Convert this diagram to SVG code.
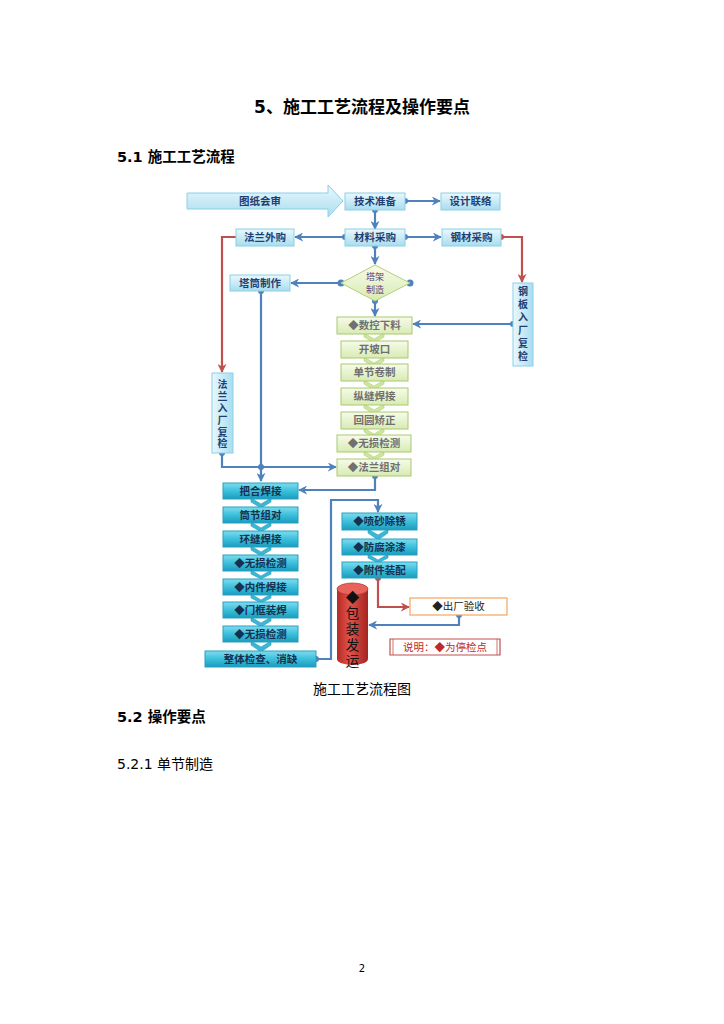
<svg xmlns="http://www.w3.org/2000/svg" width="724" height="1024" viewBox="0 0 724 1024">
<defs>
<linearGradient id="gBlue" x1="0" y1="0" x2="0" y2="1"><stop offset="0" stop-color="#eaf8fd"/><stop offset="1" stop-color="#a8ddf0"/></linearGradient>
<linearGradient id="gBlueH" x1="0" y1="0" x2="1" y2="0"><stop offset="0" stop-color="#eaf8fd"/><stop offset="1" stop-color="#a8ddf0"/></linearGradient>
<linearGradient id="gCyan" x1="0" y1="0" x2="0" y2="1"><stop offset="0" stop-color="#7fdcef"/><stop offset="0.5" stop-color="#3cbfdc"/><stop offset="1" stop-color="#1a9cbc"/></linearGradient>
<linearGradient id="gGreen" x1="0" y1="0" x2="0" y2="1"><stop offset="0" stop-color="#f7fbea"/><stop offset="1" stop-color="#d8ebb3"/></linearGradient>
<linearGradient id="gRed" x1="0" y1="0" x2="1" y2="0"><stop offset="0" stop-color="#b32a24"/><stop offset="0.4" stop-color="#e2524a"/><stop offset="1" stop-color="#a52520"/></linearGradient>
<marker id="ab" viewBox="0 0 10 10" refX="9" refY="5" markerWidth="9" markerHeight="9" markerUnits="userSpaceOnUse" orient="auto"><path d="M0,0 L10,5 L0,10 L3,5 Z" fill="#4f81bd"/></marker>
<marker id="ar" viewBox="0 0 10 10" refX="9" refY="5" markerWidth="9" markerHeight="9" markerUnits="userSpaceOnUse" orient="auto"><path d="M0,0 L10,5 L0,10 L3,5 Z" fill="#c0504d"/></marker>
</defs>
<style>
.h{font-family:"DejaVu Sans","Noto Sans CJK SC",sans-serif;fill:#000}
.b{fill:url(#gBlue);stroke:#8ccfe6;stroke-width:1}
.c{fill:url(#gCyan);stroke:#2a9fbf;stroke-width:1}
.g{fill:url(#gGreen);stroke:#a9c96e;stroke-width:1}
.tb{font-family:"Noto Sans CJK SC",sans-serif;font-size:10.5px;font-weight:bold;fill:#1f3f73;text-anchor:middle}
.tv{font-family:"Noto Sans CJK SC",sans-serif;font-size:10px;font-weight:bold;fill:#1f3f73;text-anchor:middle;writing-mode:vertical-rl;text-orientation:upright}
.tc{font-family:"Noto Sans CJK SC",sans-serif;font-size:10.5px;font-weight:bold;fill:#16304f;text-anchor:middle}
.tg{font-family:"Noto Sans CJK SC",sans-serif;font-size:10.5px;font-weight:bold;fill:#707070;text-anchor:middle}
.lb{fill:none;stroke:#4f81bd;stroke-width:2.2}
.lr{fill:none;stroke:#c0504d;stroke-width:2.2}
.db{fill:#4f81bd}
.dr{fill:#c0504d}
.chg{fill:#cfe59f;stroke:#b3d07a;stroke-width:0.6}
.chc{fill:#3db6d3;stroke:#2a9fbf;stroke-width:0.6}
</style>
<rect width="724" height="1024" fill="#fff"/>
<text class="h" x="362" y="113" font-size="17" font-weight="bold" text-anchor="middle">5、施工工艺流程及操作要点</text>
<text class="h" x="117" y="162" font-size="14.5" font-weight="bold">5.1 施工工艺流程</text>

<g id="connectors">
<line class="lb" x1="405" y1="201" x2="440" y2="201" marker-end="url(#ab)"/><circle class="db" cx="405" cy="201" r="3"/>
<line class="lb" x1="375" y1="210" x2="375" y2="229" marker-end="url(#ab)"/><circle class="db" cx="375" cy="210" r="3"/>
<line class="lb" x1="345" y1="237" x2="295" y2="237" marker-end="url(#ab)"/><circle class="db" cx="345" cy="237" r="3"/>
<line class="lb" x1="405" y1="237" x2="441" y2="237" marker-end="url(#ab)"/><circle class="db" cx="405" cy="237" r="3"/>
<polyline class="lr" points="501,237 522,237 522,282" marker-end="url(#ar)"/><circle class="dr" cx="501" cy="237" r="3"/>
<polyline class="lr" points="236,237 222,237 222,372" marker-end="url(#ar)"/>
<line class="lb" x1="375" y1="246" x2="375" y2="264" marker-end="url(#ab)"/><circle class="db" cx="375" cy="246" r="3"/>
<line class="lb" x1="341" y1="283" x2="291" y2="283" marker-end="url(#ab)"/><circle class="db" cx="341" cy="283" r="3.5"/>
<circle class="db" cx="410" cy="283" r="3.5"/>
<line class="lb" x1="375" y1="301" x2="375" y2="316" marker-end="url(#ab)"/><circle class="db" cx="375" cy="301" r="3"/>
<line class="lb" x1="513" y1="324" x2="413" y2="324" marker-end="url(#ab)"/><circle class="db" cx="513" cy="324" r="3"/>
<line class="lb" x1="261" y1="291" x2="261" y2="481" marker-end="url(#ab)"/><circle class="db" cx="261" cy="291" r="3"/>
<polyline class="lb" points="222,453 222,467 336,467" marker-end="url(#ab)"/><circle class="db" cx="222" cy="453" r="3"/>
<circle class="db" cx="261" cy="467" r="3"/>
<polyline class="lb" points="375,476 375,490 299,490" marker-end="url(#ab)"/><circle class="db" cx="375" cy="476" r="3"/>
<polyline class="lb" points="316,659 331,659 331,500 378,500 378,512" marker-end="url(#ab)"/><circle class="db" cx="316" cy="659" r="3"/>
<polyline class="lr" points="378,578 378,607 409,607" marker-end="url(#ar)"/><circle class="dr" cx="378" cy="578" r="3"/>
<polyline class="lb" points="459,615 459,625 369,625" marker-end="url(#ab)"/><circle class="db" cx="459" cy="615" r="3"/>
</g>

<g id="n-tuzhi"><path d="M187,193 H328 V185 L343,201 L328,217 V209 H187 Z" fill="url(#gBlue)" stroke="#8ccfe6"/><text class="tb" x="260" y="205">图纸会审</text></g>
<g id="n-jishu"><rect class="b" x="345" y="193" width="60" height="17"/><text class="tb" x="375" y="205">技术准备</text></g>
<g id="n-sheji"><rect class="b" x="441" y="193" width="59" height="17"/><text class="tb" x="470.5" y="205">设计联络</text></g>
<g id="n-cailiao"><rect class="b" x="345" y="229" width="60" height="17"/><text class="tb" x="375" y="241">材料采购</text></g>
<g id="n-falanwai"><rect class="b" x="236" y="229" width="58" height="17"/><text class="tb" x="265" y="241">法兰外购</text></g>
<g id="n-gangcai"><rect class="b" x="442" y="229" width="59" height="17"/><text class="tb" x="471.5" y="241">钢材采购</text></g>
<g id="n-gangban"><rect x="513" y="283" width="20" height="83" fill="url(#gBlueH)" stroke="#8ccfe6"/>
<text class="tv" x="523" y="325" letter-spacing="3">钢板入厂复检</text></g>
<g id="n-falanru"><rect x="212" y="373" width="21" height="80" fill="url(#gBlueH)" stroke="#8ccfe6"/>
<text class="tv" x="222.5" y="415" letter-spacing="1.8">法兰入厂复检</text></g>
<g id="n-tajia"><polygon points="375,265 410,283 375,301 341,283" fill="url(#gGreen)" stroke="#b3d07a"/><text class="tb" x="375" style="fill:#5a3a78;font-weight:normal;font-size:9px"><tspan x="375" y="280">塔架</tspan><tspan x="375" y="293">制造</tspan></text></g>
<g id="n-tatong"><rect class="b" x="230" y="275" width="60" height="16"/><text class="tb" x="260" y="287">塔筒制作</text></g>

<g id="green-stack">
<polygon class="chg" points="364,333 374,339 384,333 384,337 374,343 364,337"/>
<polygon class="chg" points="364,357 374,363 384,357 384,361 374,367 364,361"/>
<polygon class="chg" points="364,380 374,386 384,380 384,384 374,390 364,384"/>
<polygon class="chg" points="364,404 374,410 384,404 384,408 374,414 364,408"/>
<polygon class="chg" points="364,428 374,434 384,428 384,432 374,438 364,432"/>
<polygon class="chg" points="364,451 374,457 384,451 384,455 374,461 364,455"/>
</g>
<g id="n-shukong"><rect class="g" x="337" y="317" width="75" height="17"/><text class="tg" x="374.5" y="329">◆数控下料</text></g>
<g id="n-kaipo"><rect class="g" x="341" y="341" width="67" height="17"/><text class="tg" x="374.5" y="353">开坡口</text></g>
<g id="n-danjie"><rect class="g" x="341" y="364" width="67" height="17"/><text class="tg" x="374.5" y="376">单节卷制</text></g>
<g id="n-zongfeng"><rect class="g" x="341" y="388" width="67" height="17"/><text class="tg" x="374.5" y="400">纵缝焊接</text></g>
<g id="n-huiyuan"><rect class="g" x="341" y="412" width="67" height="17"/><text class="tg" x="374.5" y="424">回圆矫正</text></g>
<g id="n-wusun1"><rect class="g" x="337" y="435" width="74" height="17"/><text class="tg" x="374" y="447">◆无损检测</text></g>
<g id="n-falanzu"><rect class="g" x="337" y="459" width="74" height="17"/><text class="tg" x="374" y="471">◆法兰组对</text></g>

<g id="cyan-stack">
<polygon class="chc" points="251,498 261,504 271,498 271,502 261,508 251,502"/>
<polygon class="chc" points="251,522 261,528 271,522 271,526 261,532 251,526"/>
<polygon class="chc" points="251,546 261,552 271,546 271,550 261,556 251,550"/>
<polygon class="chc" points="251,570 261,576 271,570 271,574 261,579 251,574"/>
<polygon class="chc" points="251,594 261,600 271,594 271,598 261,603 251,598"/>
<polygon class="chc" points="251,617 261,623 271,617 271,621 261,627 251,621"/>
<polygon class="chc" points="251,641 261,647 271,641 271,645 261,652 251,645"/>
<polygon class="chc" points="368,529 378,535 388,529 388,533 378,540 368,533"/>
<polygon class="chc" points="368,554 378,560 388,554 388,558 378,563 368,558"/>
</g>
<g id="n-bahe"><rect class="c" x="223" y="483" width="75" height="16"/><text class="tc" x="260.5" y="495">把合焊接</text></g>
<g id="n-tongjie"><rect class="c" x="223" y="507" width="75" height="16"/><text class="tc" x="260.5" y="519">筒节组对</text></g>
<g id="n-huanfeng"><rect class="c" x="223" y="531" width="75" height="16"/><text class="tc" x="260.5" y="543">环缝焊接</text></g>
<g id="n-wusun2"><rect class="c" x="223" y="555" width="75" height="16"/><text class="tc" x="260.5" y="567">◆无损检测</text></g>
<g id="n-neijian"><rect class="c" x="223" y="579" width="75" height="16"/><text class="tc" x="260.5" y="591">◆内件焊接</text></g>
<g id="n-menkuang"><rect class="c" x="223" y="602" width="75" height="16"/><text class="tc" x="260.5" y="614">◆门框装焊</text></g>
<g id="n-wusun3"><rect class="c" x="223" y="626" width="75" height="16"/><text class="tc" x="260.5" y="638">◆无损检测</text></g>
<g id="n-zhengti"><rect class="c" x="205" y="651" width="111" height="16"/><text class="tc" x="260.5" y="663">整体检查、消缺</text></g>
<g id="n-penshan"><rect class="c" x="342" y="513" width="75" height="17"/><text class="tc" x="379.5" y="525">◆喷砂除锈</text></g>
<g id="n-fangfu"><rect class="c" x="342" y="539" width="75" height="16"/><text class="tc" x="379.5" y="551">◆防腐涂漆</text></g>
<g id="n-fujian"><rect class="c" x="342" y="562" width="75" height="16"/><text class="tc" x="379.5" y="574">◆附件装配</text></g>
<g id="n-chuchang"><rect x="410" y="598" width="97" height="17" fill="#fff" stroke="#f4a460" stroke-width="1.2"/><text x="458.5" y="610" font-family="Noto Sans CJK SC,sans-serif" font-size="10.5" fill="#222" text-anchor="middle">◆出厂验收</text></g>
<g id="n-baozhuang"><path d="M337,589 V659 A15.5,6 0 0 0 368,659 V589 Z" fill="url(#gRed)"/><ellipse cx="352.5" cy="589" rx="15.5" ry="6" fill="#e8635b" stroke="#b83a33" stroke-width="0.8"/>
<text x="352.5" y="630" font-family="Noto Sans CJK SC,sans-serif" font-size="13.5" fill="#111" text-anchor="middle" letter-spacing="2.5" style="writing-mode:vertical-rl;text-orientation:upright">◆包装发运</text></g>
<g id="n-shuoming"><path d="M390,639 H500 V655 H390 Z" fill="#fff" stroke="#c0504d" stroke-width="1.2"/><line x1="393" y1="639" x2="393" y2="655" stroke="#c0504d" stroke-width="0.8"/><line x1="497" y1="639" x2="497" y2="655" stroke="#c0504d" stroke-width="0.8"/><text x="445" y="651" font-family="Noto Sans CJK SC,sans-serif" font-size="10.5" fill="#c0282a" text-anchor="middle">说明：◆为停检点</text></g>

<text class="h" x="362" y="694" font-size="14" text-anchor="middle">施工工艺流程图</text>
<text class="h" x="117" y="722" font-size="14.5" font-weight="bold">5.2 操作要点</text>
<text class="h" x="117" y="769" font-size="14">5.2.1 单节制造</text>
<text class="h" x="362" y="972" font-size="10" text-anchor="middle">2</text>
</svg>
